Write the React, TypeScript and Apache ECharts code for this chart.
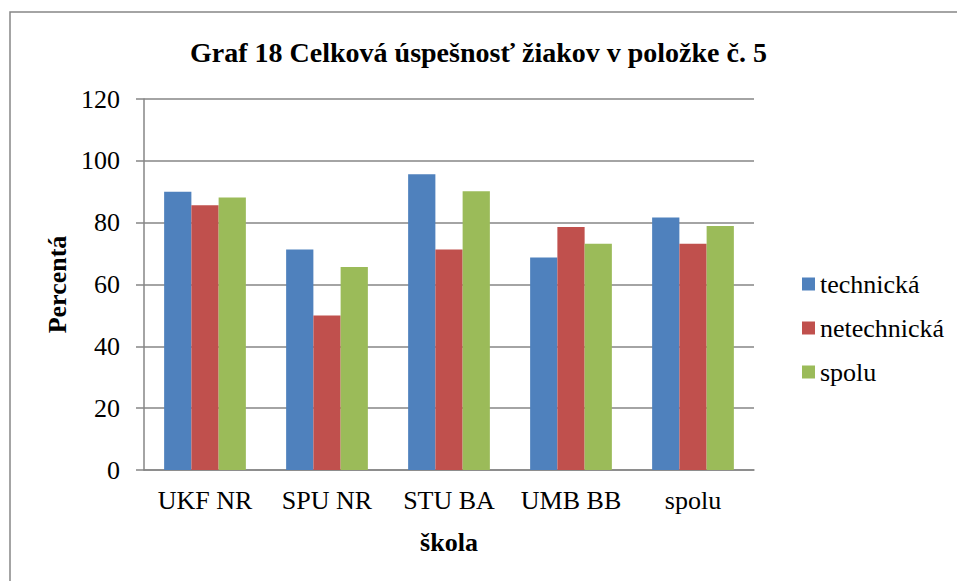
import React, { useEffect, useRef } from "react";
import * as echarts from "echarts";

const categories = ["UKF NR", "SPU NR", "STU BA", "UMB BB", "spolu"];
const technicka = [90, 71.3, 95.7, 68.7, 81.7];
const netechnicka = [85.6, 50, 71.3, 78.6, 73.2];
const spolu = [88.1, 65.7, 90.2, 73.2, 78.9];
const seriesNames = ["technická", "netechnická", "spolu"];
const colors = ["#4F81BD", "#C0504D", "#9BBB59"];
const titleText = "Graf 18 Celková úspešnosť žiakov v položke č. 5";

const FONT = "Liberation Serif";

export default function App() {
  const ref = useRef<HTMLDivElement>(null);
  useEffect(() => {
    if (!ref.current) return;
    const chart = echarts.init(ref.current, undefined, { renderer: "svg" });
    const data = [technicka, netechnicka, spolu];
    chart.setOption({
      animation: false,
      backgroundColor: "#ffffff",
      title: {
        text: titleText,
        left: "center",
        top: 33,
        textStyle: { fontFamily: FONT, fontSize: 28, fontWeight: "bold", color: "#000" },
      },
      graphic: [
        {
          type: "rect",
          shape: { x: 10, y: 12, width: 980, height: 600 },
          style: { fill: "none", stroke: "#868686", lineWidth: 1.5 },
          silent: true,
          z: -1,
        },
      ],
      legend: {
        orient: "vertical",
        left: 797,
        top: 266,
        itemWidth: 13,
        itemHeight: 13,
        itemGap: 18,
        itemStyle: { borderWidth: 0 },
        icon: "rect",
        textStyle: { fontFamily: FONT, fontSize: 26, color: "#000" },
        data: seriesNames,
      },
      grid: { left: 144, right: 203, top: 99, bottom: 111, containLabel: false },
      xAxis: {
        type: "category",
        data: categories,
        name: "škola",
        nameLocation: "middle",
        nameGap: 72,
        nameTextStyle: { fontFamily: FONT, fontSize: 26, fontWeight: "bold", color: "#000", verticalAlign: "middle" },
        axisLine: { lineStyle: { color: "#868686", width: 1.5 } },
        axisTick: { show: false },
        axisLabel: { fontFamily: FONT, fontSize: 26, color: "#000", margin: 17, interval: 0, hideOverlap: false },
      },
      yAxis: {
        type: "value",
        min: 0,
        max: 120,
        interval: 20,
        name: "Percentá",
        nameLocation: "middle",
        nameGap: 85,
        nameRotate: 90,
        nameTextStyle: { fontFamily: FONT, fontSize: 26, fontWeight: "bold", color: "#000", verticalAlign: "middle" },
        axisLine: { show: true, lineStyle: { color: "#868686", width: 1.5 } },
        axisTick: { show: true, length: 8, lineStyle: { color: "#868686", width: 1.5 } },
        axisLabel: { fontFamily: FONT, fontSize: 26, color: "#000", margin: 24 },
        splitLine: { lineStyle: { color: "#868686", width: 1.5 } },
      },
      series: seriesNames.map((n, i) => ({
        name: n,
        type: "bar",
        data: data[i],
        barGap: "0%",
        barCategoryGap: "33%",
        itemStyle: { color: colors[i] },
      })),
    });
    return () => chart.dispose();
  }, []);
  return <div ref={ref} style={{ width: 957, height: 581, position: "absolute", left: 0, top: 0 }} />;
}
